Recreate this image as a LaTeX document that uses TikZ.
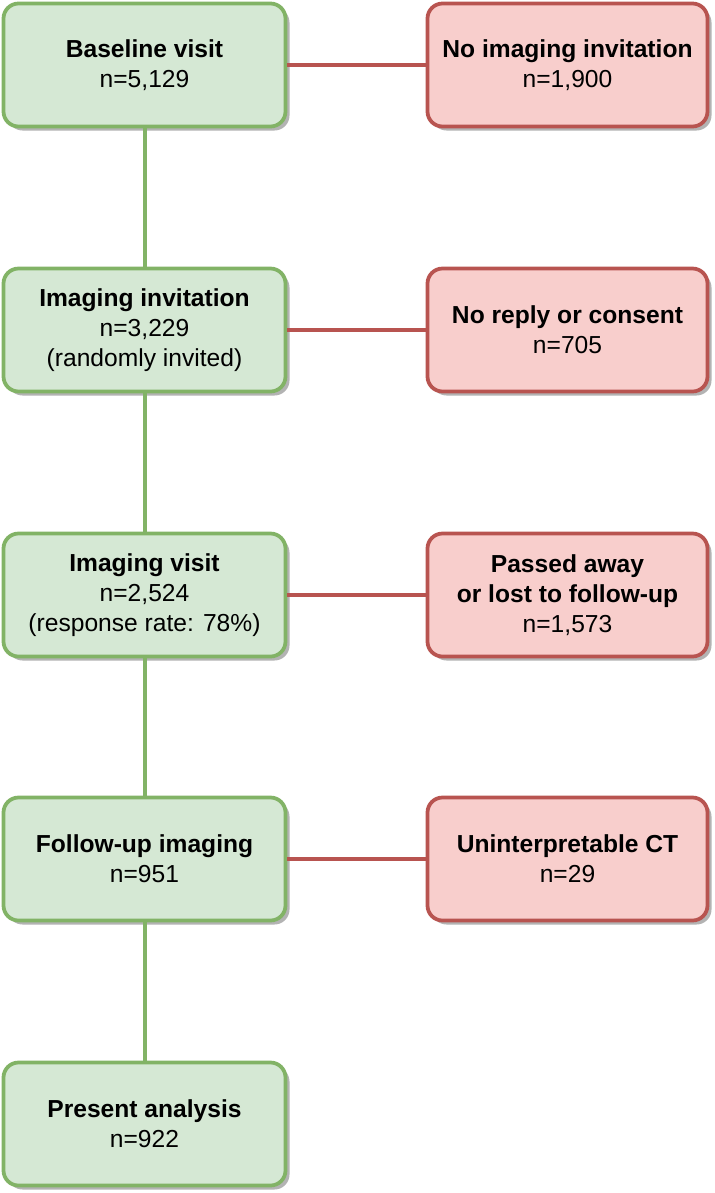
\documentclass[tikz,border=0pt]{standalone}
\usepackage{fontspec}
\setmainfont{Liberation Sans}
\definecolor{keepfill}{HTML}{D5E8D4}
\definecolor{keepline}{HTML}{82B366}
\definecolor{dropfill}{HTML}{F8CECC}
\definecolor{dropline}{HTML}{B85450}
\usetikzlibrary{shadows}

\begin{document}
\begin{tikzpicture}[
    box/.style={rounded corners=0.3cm, line width=0.075cm, align=center,
      minimum height=2.46cm, inner sep=4pt,
      font=\fontsize{14}{17}\selectfont,
      drop shadow={shadow xshift=0.08cm, shadow yshift=-0.08cm, fill=black!50, opacity=0.6}},
    keepbox/.style={box, draw=keepline, fill=keepfill, minimum width=5.64cm},
    dropbox/.style={box, draw=dropline, fill=dropfill, minimum width=5.6cm},
    keepflow/.style={draw=keepline, line width=0.08cm},
    dropflow/.style={draw=dropline, line width=0.08cm}
  ]
  \useasboundingbox (0,0) rectangle (14.3,-23.86);

  % Main flow
  \node[keepbox] (baseline) at (2.89, -1.30) {\textbf{Baseline visit}\\n=5,129};
  \node[keepbox] (invite) at (2.89, -6.60) {\textbf{Imaging invitation}\\n=3,229\\(randomly invited)};
  \node[keepbox] (imaging) at (2.89, -11.90) {\textbf{Imaging visit}\\n=2,524\\(response rate: 78\%)};
  \node[keepbox] (followup) at (2.89, -17.18) {\textbf{Follow-up imaging}\\n=951};
  \node[keepbox] (analysis) at (2.89, -22.48) {\textbf{Present analysis}\\n=922};

  % Exclusions
  \node[dropbox] (noinvite) at (11.35, -1.30) {\textbf{No imaging invitation}\\n=1,900};
  \node[dropbox] (noreply) at (11.35, -6.60) {\textbf{No reply or consent}\\n=705};
  \node[dropbox] (lost) at (11.35, -11.90) {\textbf{Passed away}\\\textbf{or lost to follow-up}\\n=1,573};
  \node[dropbox] (uninterp) at (11.35, -17.18) {\textbf{Uninterpretable CT}\\n=29};

  % Connectors
  \draw[keepflow] (baseline) -- (invite);
  \draw[keepflow] (invite) -- (imaging);
  \draw[keepflow] (imaging) -- (followup);
  \draw[keepflow] (followup) -- (analysis);

  \draw[dropflow] (baseline) -- (noinvite);
  \draw[dropflow] (invite) -- (noreply);
  \draw[dropflow] (imaging) -- (lost);
  \draw[dropflow] (followup) -- (uninterp);
\end{tikzpicture}
\end{document}
